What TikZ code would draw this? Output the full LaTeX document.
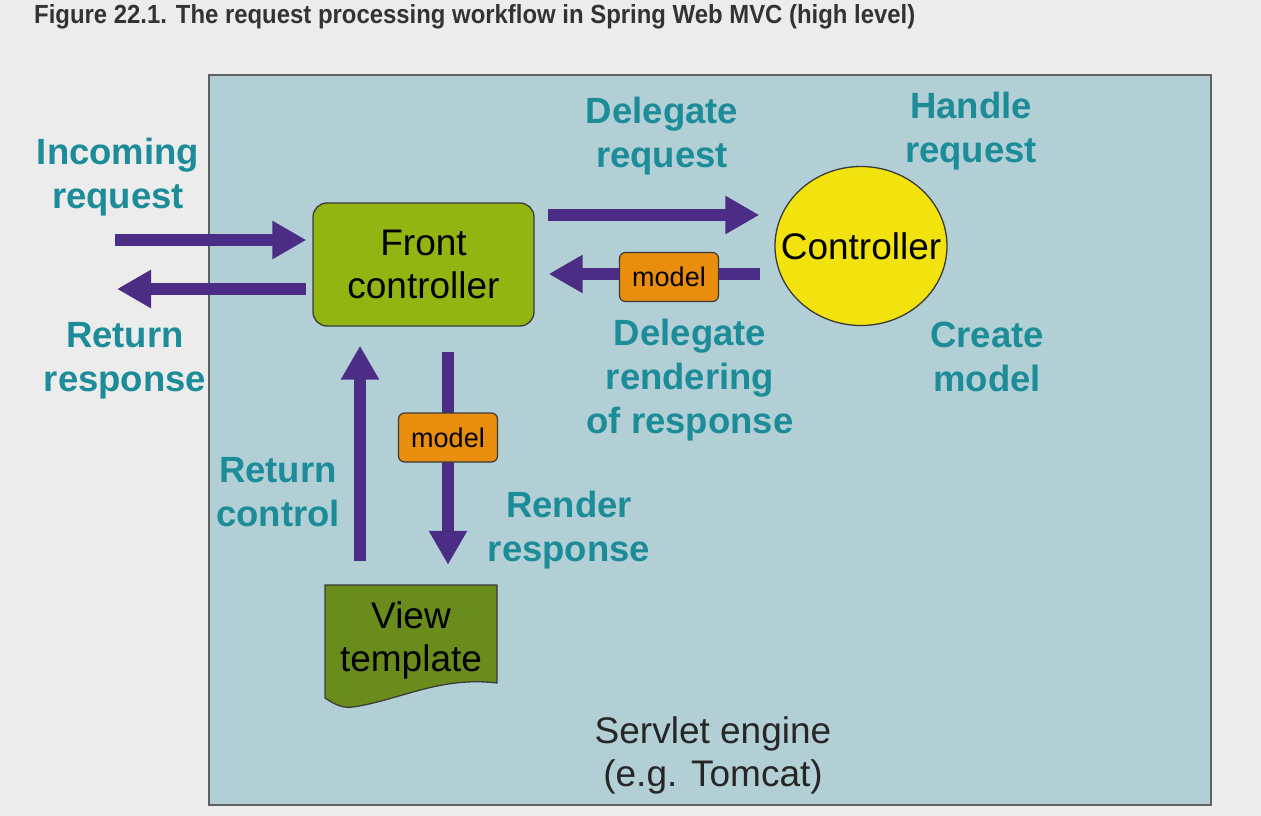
\documentclass[tikz,border=0pt]{standalone}
\usepackage{fontspec}
\setmainfont{Liberation Sans}
\usetikzlibrary{arrows.meta,shapes.geometric}
\definecolor{bgc}{HTML}{ECECEC}
\definecolor{boxc}{HTML}{B3CFD6}
\definecolor{tealc}{HTML}{1C8C99}
\definecolor{purc}{HTML}{4B2D86}
\definecolor{fcc}{HTML}{93B512}
\definecolor{ctc}{HTML}{F2E30E}
\definecolor{vtc}{HTML}{6A8C1C}
\definecolor{modc}{HTML}{E88E0C}
\definecolor{edgec}{HTML}{3A3A3A}
\definecolor{titc}{HTML}{333333}
\begin{document}
\begin{tikzpicture}[x=1pt,y=-1pt,
  lbl/.style={text=tealc,font=\fontsize{36.5}{44}\selectfont\bfseries,align=center},
  blk/.style={text=black,font=\fontsize{37}{43}\selectfont,align=center},
  arr/.style={draw=purc,line width=12pt,-{Triangle[length=34pt,width=36pt]}},
  modelbox/.style={draw=edgec,line width=1.2pt,fill=modc,rounded corners=6pt,minimum width=99pt,minimum height=49pt,inner sep=0pt,font=\fontsize{27}{30}\selectfont}]
\useasboundingbox (0,0) rectangle (1261,816);
\fill[bgc] (0,0) rectangle (1261,816);
\node[anchor=base west,text=titc,inner sep=0pt] (title) at (34,24) {\resizebox{881pt}{19pt}{\bfseries Figure 22.1. The request processing workflow in Spring Web MVC (high level)}};
\draw[draw=edgec!80,line width=2pt,fill=boxc] (209,75) rectangle (1211,805);
% nodes
\node[draw=edgec,line width=1.3pt,fill=fcc,rounded corners=14pt,minimum width=221pt,minimum height=123pt,inner sep=0pt,blk] (fc) at (423.5,264.5) {Front\\controller};
\node[ellipse,draw=edgec,line width=1.3pt,fill=ctc,minimum width=172pt,minimum height=159pt,inner sep=0pt,blk] (ctrl) at (861,246) {\makebox[0pt]{Controller}};
\draw[draw=edgec,line width=1.3pt,fill=vtc] (325,585) -- (497,585) -- (497,683) .. controls (440,676) and (400,700) .. (353,707) .. controls (340,709) and (330,701) .. (325,698) -- cycle;
\node[minimum width=172pt,minimum height=110pt,inner sep=0pt,blk] (vt) at (411,640) {View\\template};
% labels
\node[lbl] (linc) at (118,177) {Incoming\\request};
\node[lbl] (lret) at (125,361) {Return\\response};
\node[lbl] (ldel) at (662,136) {Delegate\\request};
\node[lbl] (lhan) at (971,131) {Handle\\request};
\node[lbl] (lren) at (690,380) {Delegate\\rendering\\of response};
\node[lbl] (lcre) at (987,357) {Create\\model};
\node[lbl] (lrc) at (278,492) {Return\\control};
\node[lbl] (lrr) at (569,530) {Render\\response};
\node[blk,text=black!85] (srv) at (713,755) {Servlet engine\\(e.g. Tomcat)};
% connectors
\coordinate (inS) at (115,240);
\coordinate (retE) at (117,289);
\coordinate (dl) at (0,215);
\coordinate (ml) at (0,274);
\coordinate (dn) at (448,0);
\coordinate (up) at (360,0);
\draw[arr] (inS) -- ([xshift=-6pt]fc.west |- inS);
\draw[arr] ([xshift=-6pt]fc.west |- retE) -- (retE);
\draw[arr] ([xshift=13pt]fc.east |- dl) -- ([xshift=-15pt]ctrl.west |- dl);
\draw[arr] ([xshift=-14pt]ctrl.west |- ml) -- ([xshift=14pt]fc.east |- ml);
\draw[arr] ([yshift=-25pt]fc.south -| dn) -- ([yshift=20pt]vt.north -| dn);
\draw[arr] ([yshift=24pt]vt.north -| up) -- ([yshift=-19pt]fc.south -| up);
\node[modelbox] (m1) at (669,277) {model};
\node[modelbox] (m2) at (448,437.5) {model};
\end{tikzpicture}
\end{document}
